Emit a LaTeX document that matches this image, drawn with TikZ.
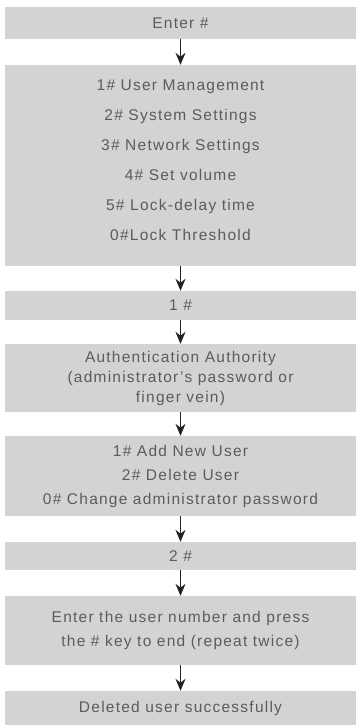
\documentclass[tikz,border=0pt]{standalone}
\usepackage{fontspec}
\setmainfont{Liberation Sans}[LetterSpace=8]
\usetikzlibrary{arrows.meta}
\definecolor{boxfill}{RGB}{211,211,213}
\definecolor{boxtext}{RGB}{92,92,92}
\definecolor{arrowcol}{RGB}{34,34,34}
\tikzset{
  fbox/.style={fill=boxfill, draw=none, minimum width=351pt, inner sep=0pt,
    text=boxtext, align=center, font=\fontsize{15.5}{20}\selectfont},
  flow/.style={draw=arrowcol, line width=1.3pt, -{Stealth[length=12pt,width=10pt]}}
}
\begin{document}
\begin{tikzpicture}[x=1pt,y=-1pt]
\useasboundingbox (0,0) rectangle (356,725);
\node[fbox, minimum height=32pt] (b1) at (180.5,23) {Enter \#};
\node[fbox, minimum height=201pt, font=\fontsize{15.5}{30}\selectfont] (b2) at (180.5,165.5)
  {1\# User Management\\2\# System Settings\\3\# Network Settings\\4\# Set volume\\5\# Lock-delay time\\0\#Lock Threshold\raisebox{0pt}[0pt][10pt]{}};
\node[fbox, minimum height=29pt] (b3) at (180.5,305.5) {1 \#};
\node[fbox, minimum height=68pt] (b4) at (180.5,378)
  {Authentication Authority\\(administrator’s password or\\finger vein)};
\node[fbox, minimum height=80pt, font=\fontsize{15.5}{24}\selectfont] (b5) at (180.5,476)
  {1\# Add New User\\2\# Delete User\\0\# Change administrator password};
\node[fbox, minimum height=28pt] (b6) at (180.5,556) {2 \#};
\node[fbox, minimum height=69pt, font=\fontsize{15.5}{24}\selectfont] (b7) at (180.5,630.5)
  {Enter the user number and press\\the \# key to end (repeat twice)};
\node[fbox, minimum height=34pt] (b8) at (180.5,708) {Deleted user successfully};
\foreach \a/\b in {b1/b2,b2/b3,b3/b4,b4/b5,b5/b6,b6/b7,b7/b8}
  \draw[flow] (\a.south) -- (\b.north);
\end{tikzpicture}
\end{document}
